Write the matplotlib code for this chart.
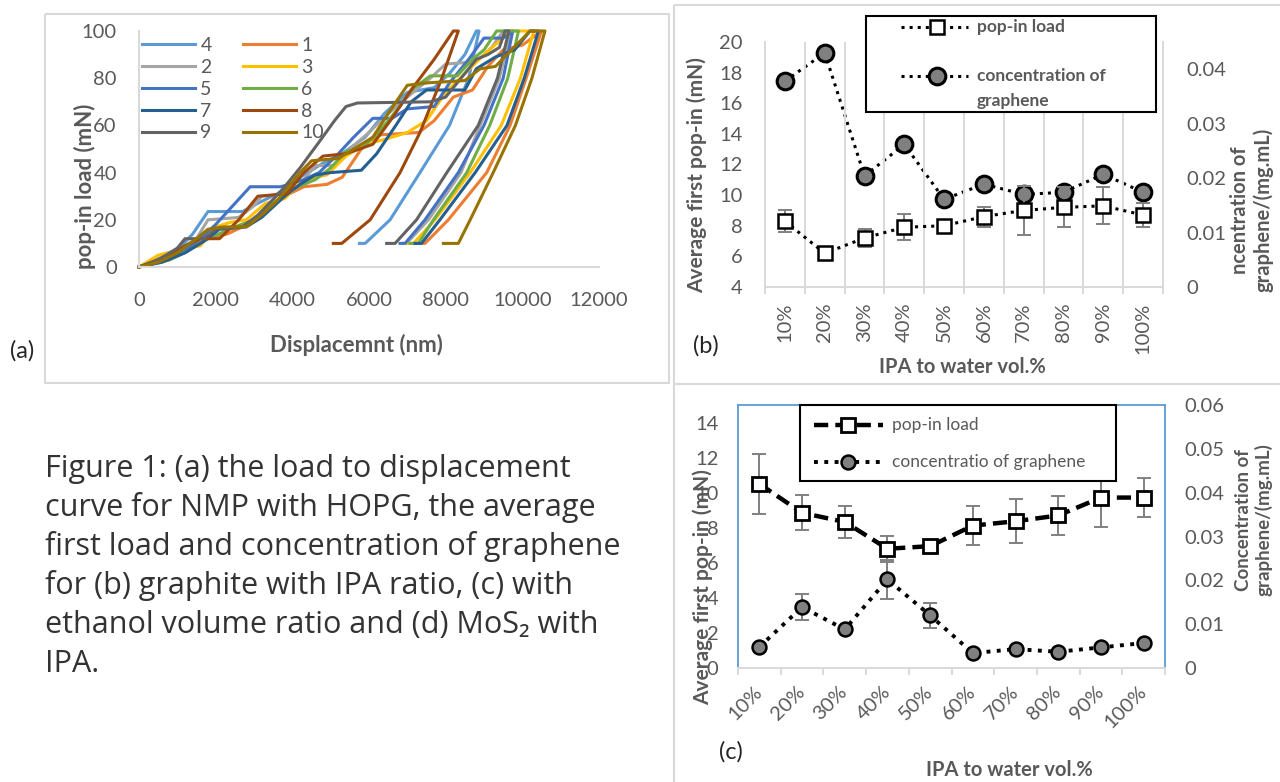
import matplotlib
matplotlib.use("Agg")
import matplotlib.pyplot as plt
from matplotlib.patches import Rectangle
import matplotlib.transforms as mtransforms

# ---------------- data ----------------
# panel (a): load-displacement curves (displacement nm, load mN)
disp_1 = [0, 600, 1200, 1800, 2300, 2700, 3200, 3800, 4300, 4900, 5300, 5800, 6300, 7300, 7700, 8200, 8700, 9100, 9500, 10000, 10500, 10100, 9680, 9070, 8070, 7460, 7330]
load_1 = [0, 3, 8, 12, 14, 17, 22, 30, 34, 35, 38, 50, 56, 57, 62, 72, 75, 85, 92, 94, 100, 80, 60, 40, 20, 10, 10]
disp_2 = [0, 1000, 1500, 1800, 2600, 3000, 3200, 3800, 4200, 4600, 5100, 5500, 6000, 6500, 7000, 7600, 8000, 8800, 9200, 9500, 9700, 9400, 8900, 8400, 7550, 6980, 6880]
load_2 = [0, 7, 12, 20, 21, 26, 30, 31, 35, 43, 43, 50, 57, 65, 72, 80, 86, 87, 93, 100, 100, 80, 60, 40, 20, 10, 10]
disp_3 = [0, 500, 1000, 1600, 2000, 2400, 2800, 3300, 3800, 4300, 4900, 5400, 5900, 6400, 7000, 7500, 8000, 8500, 9000, 9700, 10300, 9950, 9450, 8640, 7720, 7160, 6980]
load_3 = [0, 5, 7, 9, 17, 19, 20, 27, 29, 37, 39, 47, 52, 54, 57, 62, 74, 82, 90, 100, 100, 80, 60, 40, 20, 10, 10]
disp_4 = [0, 1000, 1400, 1800, 2700, 3100, 3600, 4200, 4800, 5300, 5900, 6400, 7000, 7700, 8100, 8500, 8800, 8870, 8600, 8100, 7330, 6550, 5900, 5750]
load_4 = [0, 7, 14, 23.5, 23.5, 27, 31, 38, 44, 48, 55, 65, 74, 76, 82, 90, 100, 100, 80, 60, 40, 20, 10, 10]
disp_5 = [0, 800, 1200, 1600, 2000, 2900, 3700, 4300, 4700, 5200, 5600, 6100, 6600, 7000, 7700, 8100, 8600, 9000, 9500, 9750, 9500, 9000, 8330, 7460, 6940, 6810]
load_5 = [0, 4, 7, 12, 18, 34, 34, 37, 40, 48, 55, 63, 63, 67, 68, 78, 88, 97, 97, 100, 80, 60, 40, 20, 10, 10]
disp_6 = [0, 800, 1300, 1800, 2500, 3000, 3500, 4000, 4600, 5000, 5400, 5800, 6300, 6800, 7100, 7600, 8300, 8700, 9000, 9330, 9900, 9620, 9150, 8550, 7680, 7290, 7070]
load_6 = [0, 3, 7, 12, 17, 20, 27, 33, 37, 42, 49, 50, 58, 68, 75, 81, 81, 88, 92, 100, 100, 80, 60, 40, 20, 10, 10]
disp_7 = [0, 600, 1200, 1700, 2100, 2800, 3200, 3800, 4200, 4600, 5000, 5800, 6200, 6700, 7100, 7500, 8500, 8800, 9300, 9800, 10200, 10420, 10050, 9600, 8770, 7850, 7370, 7200]
load_7 = [0, 2, 6, 11, 16, 17, 21, 30, 35, 39, 40, 41, 48, 60, 70, 75, 75, 84, 89, 92, 100, 100, 80, 60, 40, 20, 10, 10]
disp_8 = [0, 800, 1200, 1600, 2100, 2600, 3100, 3850, 4300, 4800, 5400, 6100, 6600, 7100, 7700, 8200, 8330, 7900, 7330, 6810, 6030, 5290, 5070]
load_8 = [0, 5, 9, 12, 12, 20, 30, 31, 40, 47, 48, 52, 63, 75, 88, 100, 100, 80, 57, 40, 20, 10, 10]
disp_9 = [0, 500, 1000, 1200, 1700, 2000, 2700, 3100, 3700, 4200, 4700, 5100, 5400, 5700, 7600, 8000, 8400, 8800, 9100, 9400, 9550, 9650, 9350, 8850, 8030, 7240, 6680, 6460]
load_9 = [0, 3, 8, 12, 12, 16, 17, 22, 32, 42, 53, 62, 68, 69.5, 70, 72, 80, 88, 90, 93, 100, 100, 80, 60, 40, 20, 10, 10]
disp_10 = [0, 500, 1000, 1500, 1800, 2200, 2800, 3200, 3600, 4200, 4500, 5200, 5600, 6100, 6500, 7000, 7500, 8500, 8900, 9300, 9600, 10200, 10590, 10250, 9820, 9240, 8640, 8330, 7940]
load_10 = [0, 2, 6, 12, 16, 17, 17, 22, 28, 40, 45, 46, 50, 55, 65, 77, 78, 79, 84, 85, 90, 100, 100, 80, 60, 40, 20, 10, 10]

x_ticks_a = [0, 2000, 4000, 6000, 8000, 10000, 12000]
y_ticks_a = [0, 20, 40, 60, 80, 100]

# panels (b), (c): categories
ipa_labels = ['10%', '20%', '30%', '40%', '50%', '60%', '70%', '80%', '90%', '100%']

popin_b = [8.3, 6.2, 7.2, 7.9, 8.0, 8.6, 9.0, 9.2, 9.3, 8.7]
popin_err_b = [0.7, 0.2, 0.6, 0.85, 0.3, 0.65, 1.6, 1.3, 1.2, 0.8]
conc_b = [0.0378, 0.0430, 0.0204, 0.0262, 0.0161, 0.0189, 0.0170, 0.0174, 0.0207, 0.0174]

popin_c = [10.5, 8.85, 8.33, 6.8, 6.95, 8.12, 8.37, 8.7, 9.72, 9.72]
popin_err_c = [1.7, 1.0, 0.9, 0.75, 0.2, 1.1, 1.25, 1.1, 1.65, 1.1]
conc_c = [0.0048, 0.0139, 0.0088, 0.0202, 0.0120, 0.0034, 0.0043, 0.0037, 0.0047, 0.0057]
conc_err_c = [0.0003, 0.003, 0.0003, 0.0045, 0.0029, 0.0003, 0.0003, 0.0003, 0.0003, 0.0003]

caption_lines = [
    "Figure 1: (a) the load to displacement",
    "curve for NMP with HOPG, the average",
    "first load and concentration of graphene",
    "for (b) graphite with IPA ratio, (c) with",
    "ethanol volume ratio and (d) MoS\u2082 with",
    "IPA.",
]

# ---------------- style ----------------
W, H = 1280, 782
plt.rcParams['font.family'] = ['Lato', 'DejaVu Sans']
TXT = '#595959'
AX_GRAY = '#D9D9D9'
BLUE_FRAME = '#5B9BD5'
ERR_GRAY = '#808080'

fig = plt.figure(figsize=(12.8, 7.82), dpi=100)


def pbox(x0, y0, x1, y1):
    return [x0 / W, 1 - y1 / H, (x1 - x0) / W, (y1 - y0) / H]


def ftext(x, y, s, **kw):
    fig.text(x / W, 1 - y / H, s, **kw)


# ---------------- panel (a) ----------------
ax_a = fig.add_axes(pbox(139, 31, 599, 267))
series_a = [
    ('4', disp_4, load_4, '#5B9BD5'),
    ('1', disp_1, load_1, '#ED7D31'),
    ('2', disp_2, load_2, '#A5A5A5'),
    ('3', disp_3, load_3, '#FFC000'),
    ('5', disp_5, load_5, '#4472C4'),
    ('6', disp_6, load_6, '#70AD47'),
    ('7', disp_7, load_7, '#255E91'),
    ('8', disp_8, load_8, '#9E480E'),
    ('9', disp_9, load_9, '#636363'),
    ('10', disp_10, load_10, '#997300'),
]
handles = {}
for name, xs, ys, col in series_a:
    ln, = ax_a.plot(xs, ys, color=col, lw=2.2, solid_joinstyle='round', clip_on=False)
    handles[name] = ln
ax_a.set_xlim(0, 12000)
ax_a.set_ylim(0, 100)
ax_a.set_xticks(x_ticks_a)
ax_a.set_yticks(y_ticks_a)
for s in ['top', 'right']:
    ax_a.spines[s].set_visible(False)
for s in ['left', 'bottom']:
    ax_a.spines[s].set_color(AX_GRAY)
    ax_a.spines[s].set_linewidth(1.5)
ax_a.tick_params(axis='x', length=0, pad=18, labelsize=14.5, labelcolor=TXT)
ax_a.tick_params(axis='y', length=0, pad=16, labelsize=14.5, labelcolor=TXT)
order = ['4', '2', '5', '7', '9', '1', '3', '6', '8', '10']
ax_a.legend([handles[k] for k in order], order, ncol=2, loc='upper left',
            bbox_to_anchor=(142 / W, 1 - 37 / H), bbox_transform=fig.transFigure,
            frameon=False, borderpad=0, borderaxespad=0, handlelength=2.75,
            handletextpad=0.25, columnspacing=1.6, labelspacing=0.25,
            fontsize=14, labelcolor=TXT)
ftext(85, 186, 'pop-in load (mN)', rotation=90, ha='center', va='center',
      fontsize=16, fontweight='bold', color=TXT)
ftext(356, 345, 'Displacemnt (nm)', ha='center', va='center',
      fontsize=16, fontweight='bold', color=TXT)

# ---------------- panel (b) ----------------
xc = [i + 0.5 for i in range(len(ipa_labels))]
ax_b = fig.add_axes(pbox(765, 42, 1163, 287))
ax_b2 = ax_b.twinx()
ax_b.set_zorder(ax_b2.get_zorder() + 1)
ax_b.patch.set_visible(False)

ax_b.plot(xc, popin_b, ls=':', lw=2.2, color='black', zorder=2)
ax_b.errorbar(xc, popin_b, yerr=popin_err_b, fmt='none', ecolor=ERR_GRAY,
              elinewidth=1.4, capsize=5, capthick=1.4, zorder=3)
ax_b.plot(xc, popin_b, ls='none', marker='s', ms=10, mfc='white', mec='black',
          mew=1.8, zorder=4)
ax_b2.plot(xc, conc_b, ls=':', lw=2.2, color='black', marker='o', ms=12,
           mfc='#808080', mec='black', mew=2.2)

ax_b.set_xlim(0, 10)
ax_b.set_ylim(4, 20)
ax_b2.set_ylim(0, 0.045)
ax_b.set_yticks(range(4, 21, 2))
ax_b2.set_yticks([0, 0.01, 0.02, 0.03, 0.04])
ax_b2.set_yticklabels(['0', '0.01', '0.02', '0.03', '0.04'])
ax_b.set_xticks(xc)
ax_b.set_xticklabels(ipa_labels, rotation=90)
ax_b.set_xticks(range(11), minor=True)
ax_b.grid(which='minor', axis='x', color=AX_GRAY, lw=1.4)
ax_b.tick_params(axis='x', which='major', length=0, pad=11, labelsize=14.5, labelcolor=TXT)
ax_b.tick_params(axis='x', which='minor', length=5, width=1.4, color=AX_GRAY, direction='out')
ax_b.tick_params(axis='y', length=0, pad=16, labelsize=14.5, labelcolor=TXT)
ax_b2.tick_params(axis='y', length=0, pad=17, labelsize=14.5, labelcolor=TXT)
for a in (ax_b, ax_b2):
    a.spines['top'].set_visible(False)
    for s in ['left', 'right', 'bottom']:
        a.spines[s].set_color(AX_GRAY)
        a.spines[s].set_linewidth(1.4)

ftext(697, 175, 'Average first pop-in (mN)', rotation=90, ha='center', va='center',
      fontsize=15, fontweight='bold', color=TXT)
ftext(1252, 210, 'ncentration of\ngraphene/(mg.mL)', rotation=90, ha='center',
      va='center', multialignment='center', fontsize=14.5, fontweight='bold',
      color=TXT, linespacing=1.15)
ftext(962, 367, 'IPA to water vol.%', ha='center', va='center', fontsize=14.5,
      fontweight='bold', color=TXT)

# ---------------- panel (c) ----------------
ax_c = fig.add_axes(pbox(738, 405, 1165, 668))
ax_c2 = ax_c.twinx()
ax_c.set_zorder(ax_c2.get_zorder() + 1)
ax_c.patch.set_visible(False)

ax_c2.errorbar(xc, conc_c, yerr=conc_err_c, fmt='none', ecolor=ERR_GRAY,
               elinewidth=1.4, capsize=5, capthick=1.4, zorder=1)
ax_c2.plot(xc, conc_c, ls=':', lw=2.8, color='black', marker='o', ms=10,
           mfc='#808080', mec='black', mew=1.8, zorder=2)
ax_c.errorbar(xc, popin_c, yerr=popin_err_c, fmt='none', ecolor=ERR_GRAY,
              elinewidth=1.4, capsize=5, capthick=1.4, zorder=2)
ax_c.plot(xc, popin_c, ls=(0, (3.2, 1.6)), lw=3.2, color='black', marker='s',
          ms=10, mfc='white', mec='black', mew=2, zorder=3)

ax_c.set_xlim(0, 10)
ax_c.set_ylim(0, 15)
ax_c2.set_ylim(0, 0.06)
ax_c.set_yticks(range(0, 15, 2))
ax_c2.set_yticks([0, 0.01, 0.02, 0.03, 0.04, 0.05, 0.06])
ax_c2.set_yticklabels(['0', '0.01', '0.02', '0.03', '0.04', '0.05', '0.06'])
ax_c.set_xticks(xc)
ax_c.set_xticklabels(ipa_labels, rotation=45, ha='right', va='center',
                     rotation_mode='anchor')
offset = mtransforms.ScaledTranslation(8 / 100, 0, fig.dpi_scale_trans)
for lab in ax_c.get_xticklabels():
    lab.set_transform(lab.get_transform() + offset)
ax_c.set_xticks(range(11), minor=True)
ax_c.tick_params(axis='x', which='major', length=0, pad=15, labelsize=14.5, labelcolor=TXT)
ax_c.tick_params(axis='x', which='minor', length=5, width=1.4, color=AX_GRAY, direction='out')
ax_c.tick_params(axis='y', length=0, pad=14, labelsize=14.5, labelcolor=TXT)
ax_c2.tick_params(axis='y', length=0, pad=14, labelsize=14.5, labelcolor=TXT)
for s in ax_c2.spines.values():
    s.set_visible(False)
for s in ['left', 'top', 'right']:
    ax_c.spines[s].set_color(BLUE_FRAME)
    ax_c.spines[s].set_linewidth(1.3)
ax_c.spines['bottom'].set_color(AX_GRAY)
ax_c.spines['bottom'].set_linewidth(1.4)

ftext(703, 587, 'Average first pop-in (mN)', rotation=90, ha='center', va='center',
      fontsize=15, fontweight='bold', color=TXT)
ftext(1254, 520, 'Concentration of\ngraphene/(mg.mL)', rotation=90, ha='center',
      va='center', multialignment='center', fontsize=13.5, fontweight='bold',
      color=TXT, linespacing=1.15)
ftext(1009, 770, 'IPA to water vol.%', ha='center', va='center', fontsize=14.5,
      fontweight='bold', color=TXT)

# ---------------- overlay: frames, legends, captions ----------------
ov = fig.add_axes([0, 0, 1, 1], zorder=50)
ov.set_xlim(0, W)
ov.set_ylim(H, 0)
ov.axis('off')
ov.patch.set_visible(False)

frame_kw = dict(color=AX_GRAY, lw=1.5, solid_capstyle='butt')
# panel (a) frame
ov.plot([45, 669, 669, 45, 45], [14, 14, 383, 383, 14], **frame_kw)
# panel (b)/(c) frame
ov.plot([674, 674], [5, 782], **frame_kw)
ov.plot([674, 1280], [5, 5], **frame_kw)
ov.plot([674, 1280], [384, 384], **frame_kw)

# legend (b)
ov.add_patch(Rectangle((866, 16), 290, 96, facecolor='white', edgecolor='black', lw=1.5))
ov.plot([901, 968], [27, 27], ls=':', lw=2.2, color='black')
ov.plot([937], [27], marker='s', ms=10, mfc='white', mec='black', mew=1.8)
ov.text(977, 27, 'pop-in load', ha='left', va='center', fontsize=12.5,
        fontweight='bold', color=TXT)
ov.plot([901, 968], [76, 76], ls=':', lw=2.2, color='black')
ov.plot([937], [76], marker='o', ms=12, mfc='#808080', mec='black', mew=2.2)
ov.text(977, 76, 'concentration of', ha='left', va='center', fontsize=12.5,
        fontweight='bold', color=TXT)
ov.text(977, 101, 'graphene', ha='left', va='center', fontsize=12.5,
        fontweight='bold', color=TXT)

# legend (c)
ov.add_patch(Rectangle((800, 405), 316, 76, facecolor='white', edgecolor='black', lw=1.5))
ov.plot([814, 883], [425, 425], ls=(0, (3.2, 1.6)), lw=3.2, color='black')
ov.plot([848], [425], marker='s', ms=10, mfc='white', mec='black', mew=2)
ov.text(892, 425, 'pop-in load', ha='left', va='center', fontsize=12.5, color=TXT)
ov.plot([814, 883], [462, 462], ls=':', lw=2.8, color='black')
ov.plot([848], [462], marker='o', ms=10, mfc='#808080', mec='black', mew=1.8)
ov.text(892, 462, 'concentratio of graphene', ha='left', va='center', fontsize=12.5, color=TXT)

# panel letters
ov.text(22, 351, '(a)', ha='center', va='center', fontsize=17, color='#262626')
ov.text(706, 346, '(b)', ha='center', va='center', fontsize=17, color='#262626')
ov.text(731, 752, '(c)', ha='center', va='center', fontsize=17, color='#262626')

# caption
for i, line in enumerate(caption_lines):
    ov.text(45, 477 + i * 39, line, ha='left', va='baseline', fontsize=22,
            color='#333333', family=['Open Sans', 'DejaVu Sans'])

fig.savefig('out.png', dpi=100)
